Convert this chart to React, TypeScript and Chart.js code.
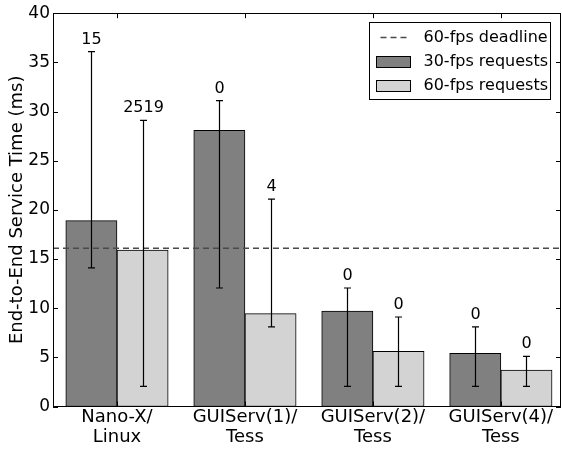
import React, { useEffect, useRef } from "react";
import { Chart, registerables } from "chart.js";
Chart.register(...registerables);

const FONT = "DejaVu Sans";

const categories: string[][] = [
  ["Nano-X/", "Linux"],
  ["GUIServ(1)/", "Tess"],
  ["GUIServ(2)/", "Tess"],
  ["GUIServ(4)/", "Tess"],
];
const positions = [0, 1, 2, 3];

const fps30Values = [18.9, 28.1, 9.7, 5.4];
const fps30Low = [14.1, 12.05, 2.05, 2.05];
const fps30High = [36.1, 31.1, 12.05, 8.1];
const fps30Labels = ["15", "0", "0", "0"];

const fps60Values = [15.9, 9.45, 5.6, 3.7];
const fps60Low = [2.05, 8.1, 2.05, 2.05];
const fps60High = [29.1, 21.1, 9.1, 5.1];
const fps60Labels = ["2519", "4", "0", "0"];

const deadline = 16.1;
const xRange = [-0.5, 3.47];
const yTicks = [0, 5, 10, 15, 20, 25, 30, 35, 40];

const BAR_OFFSET = 0.2;
const DASH = [6, 4];

const overlay = {
  id: "overlay",
  afterDatasetsDraw(chart: any) {
    const ctx = chart.ctx as CanvasRenderingContext2D;
    const xs = chart.scales.x;
    const ys = chart.scales.y;
    const a = chart.chartArea;
    ctx.save();
    const series = [
      { off: -BAR_OFFSET, lo: fps30Low, hi: fps30High, lab: fps30Labels },
      { off: BAR_OFFSET, lo: fps60Low, hi: fps60High, lab: fps60Labels },
    ];
    ctx.strokeStyle = "#000";
    ctx.fillStyle = "#000";
    ctx.lineWidth = 1.2;
    ctx.font = `16px "${FONT}"`;
    ctx.textAlign = "center";
    ctx.textBaseline = "alphabetic";
    for (const s of series) {
      positions.forEach((p, i) => {
        const px = Math.round(xs.getPixelForValue(p + s.off)) + 0.5;
        const pl = ys.getPixelForValue(s.lo[i]);
        const ph = ys.getPixelForValue(s.hi[i]);
        ctx.beginPath();
        ctx.moveTo(px, pl);
        ctx.lineTo(px, ph);
        ctx.moveTo(px - 3.5, pl);
        ctx.lineTo(px + 3.5, pl);
        ctx.moveTo(px - 3.5, ph);
        ctx.lineTo(px + 3.5, ph);
        ctx.stroke();
        ctx.fillText(s.lab[i], px, ph - 8);
      });
    }
    // frame
    ctx.lineWidth = 1;
    ctx.strokeRect(Math.round(a.left) + 0.5, Math.round(a.top) + 0.5, Math.round(a.right - a.left) - 1, Math.round(a.bottom - a.top));
    // inward ticks
    ctx.beginPath();
    for (const v of yTicks) {
      const py = Math.round(ys.getPixelForValue(v)) + 0.5;
      ctx.moveTo(a.left, py);
      ctx.lineTo(a.left + 5, py);
      ctx.moveTo(a.right, py);
      ctx.lineTo(a.right - 5, py);
    }
    for (const p of positions) {
      const px = Math.round(xs.getPixelForValue(p)) + 0.5;
      ctx.moveTo(px, a.bottom);
      ctx.lineTo(px, a.bottom - 5);
      ctx.moveTo(px, a.top);
      ctx.lineTo(px, a.top + 5);
    }
    ctx.stroke();
    ctx.restore();
  },
  afterDraw(chart: any) {
    const ctx = chart.ctx as CanvasRenderingContext2D;
    const a = chart.chartArea;
    const ds = chart.data.datasets;
    const w = 181;
    const h = 77;
    const left = Math.round(a.right - 11 - w) + 0.5;
    const top = Math.round(a.top + 9) + 0.5;
    ctx.save();
    ctx.fillStyle = "#fff";
    ctx.fillRect(left, top, w, h);
    ctx.strokeStyle = "#000";
    ctx.lineWidth = 1;
    ctx.strokeRect(left, top, w, h);
    ctx.font = `16px "${FONT}"`;
    ctx.textBaseline = "middle";
    ctx.textAlign = "left";
    ds.forEach((d: any, k: number) => {
      const cy = top + 14 + k * 24.3;
      const hx = left + 7;
      if (d.type === "line") {
        ctx.save();
        ctx.strokeStyle = d.borderColor;
        ctx.lineWidth = d.borderWidth;
        ctx.setLineDash(DASH);
        ctx.beginPath();
        ctx.moveTo(hx + 4, Math.round(cy) + 0.5);
        ctx.lineTo(hx + 34, Math.round(cy) + 0.5);
        ctx.stroke();
        ctx.restore();
      } else {
        ctx.fillStyle = d.backgroundColor;
        ctx.fillRect(hx, Math.round(cy - 5) + 0.5, 34, 11);
        ctx.strokeStyle = "#000";
        ctx.strokeRect(hx, Math.round(cy - 5) + 0.5, 34, 11);
      }
      ctx.fillStyle = "#000";
      ctx.fillText(d.label, left + 54, cy + 1);
    });
    ctx.restore();
  },
};

export default function App() {
  const ref = useRef<HTMLCanvasElement>(null);
  useEffect(() => {
    if (!ref.current) return;
    const chart = new Chart(ref.current, {
      type: "bar",
      data: {
        datasets: [
          {
            type: "line",
            label: "60-fps deadline",
            data: [
              { x: xRange[0], y: deadline },
              { x: xRange[1], y: deadline },
            ],
            borderColor: "#4a4a4a",
            borderWidth: 1.5,
            borderDash: DASH,
            pointRadius: 0,
            fill: false,
          } as any,
          {
            type: "bar",
            label: "30-fps requests",
            data: positions.map((p, i) => ({ x: p - BAR_OFFSET, y: fps30Values[i] })),
            backgroundColor: "#808080",
            borderColor: "#000",
            borderWidth: 1,
            borderSkipped: false,
            barThickness: 51.2,
            grouped: false,
          } as any,
          {
            type: "bar",
            label: "60-fps requests",
            data: positions.map((p, i) => ({ x: p + BAR_OFFSET, y: fps60Values[i] })),
            backgroundColor: "#d3d3d3",
            borderColor: "#000",
            borderWidth: 1,
            borderSkipped: false,
            barThickness: 51.2,
            grouped: false,
          } as any,
        ],
      },
      options: {
        animation: false,
        responsive: false,
        devicePixelRatio: 1,
        layout: { padding: { top: 10, right: 1, left: 0, bottom: 0 } },
        plugins: { legend: { display: false }, tooltip: { enabled: false } },
        scales: {
          x: {
            type: "linear",
            min: xRange[0],
            max: xRange[1],
            offset: false,
            grid: { display: false, drawTicks: false },
            border: { display: false },
            afterBuildTicks: (s: any) => {
              s.ticks = positions.map((v) => ({ value: v }));
            },
            afterFit: (s: any) => {
              s.height = 43.5;
            },
            ticks: {
              callback: (_v: any, i: number) => categories[i],
              font: { family: FONT, size: 18, lineHeight: 1.11 },
              color: "#000",
              padding: 1,
              maxRotation: 0,
              autoSkip: false,
            },
          },
          y: {
            min: 0,
            max: 40,
            grid: { display: false, drawTicks: false },
            border: { display: false },
            ticks: {
              stepSize: 5,
              font: { family: FONT, size: 17 },
              color: "#000",
              padding: 3,
            },
            title: {
              display: true,
              text: "End-to-End Service Time (ms)",
              font: { family: FONT, size: 18 },
              color: "#000",
              padding: { top: 7, bottom: 0 },
            },
            afterFit: (s: any) => {
              s.width = 53;
            },
          },
        },
      } as any,
      plugins: [overlay],
    });
    return () => chart.destroy();
  }, []);
  return (
    <div style={{ position: "fixed", left: 0, top: 0, width: 562, height: 450, background: "#fff" }}>
      <canvas ref={ref} width={562} height={450} />
    </div>
  );
}
